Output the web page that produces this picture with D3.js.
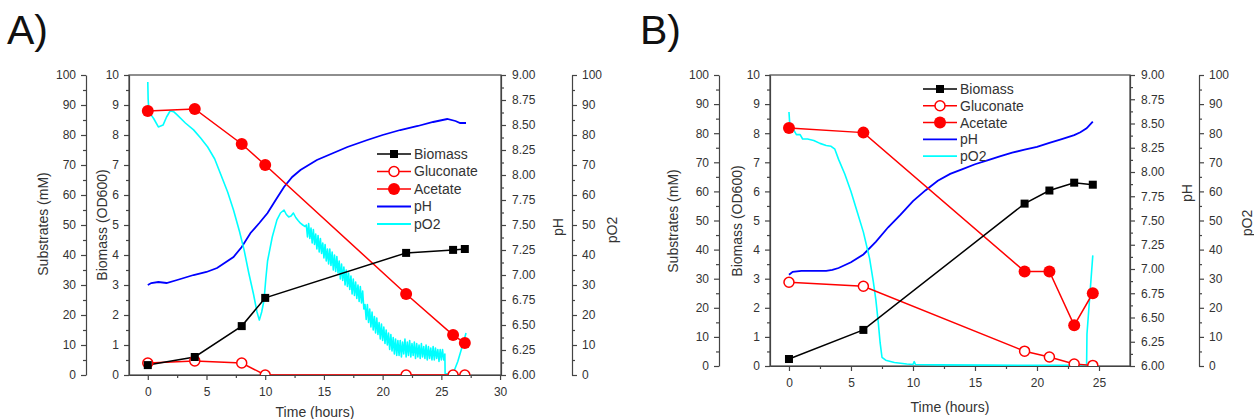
<!DOCTYPE html>
<html lang="en">
<head>
<meta charset="utf-8">
<title>Biomass, substrates, pH and pO2</title>
<script src="https://d3js.org/d3.v7.min.js"></script>
<style>
  body { margin: 0; background: #fff; }
  svg text { font-family: "Liberation Sans", Arial, sans-serif; fill: #333; }
  .axis path, .axis line { stroke: #444; stroke-width: 1.2; }
  .axis text { font-size: 12px; fill: #333; font-family: "Liberation Sans", Arial, sans-serif; }
  .title { font-size: 14px; }
  .legend text { font-size: 14px; }
  .panel-label { font-size: 41px; fill: #111; }
</style>
</head>
<body>
<svg id="chart" width="1254" height="419"></svg>
<script>
"use strict"

// ---- tick labels ----
var subTicks = [0, 10, 20, 30, 40, 50, 60, 70, 80, 90, 100];
var bioTicks = [0, 1, 2, 3, 4, 5, 6, 7, 8, 9, 10];
var pHTicks = [6.00, 6.25, 6.50, 6.75, 7.00, 7.25, 7.50, 7.75, 8.00, 8.25, 8.50, 8.75, 9.00];
var o2Ticks = [0, 10, 20, 30, 40, 50, 60, 70, 80, 90, 100];
var timeTicksA = [0, 5, 10, 15, 20, 25, 30];
var timeTicksB = [0, 5, 10, 15, 20, 25];

var legendNames = ["Biomass", "Gluconate", "Acetate", "pH", "pO2"];

// ---- panel A ----
var sampleTimeA = [0, 4, 8, 10, 22, 26, 27];
var biomassA   = [0.33, 0.6, 1.63, 2.57, 4.07, 4.17, 4.2];
var gluconateA = [4, 4.7, 4, 0, 0, 0, 0];
var acetateA   = [88, 88.7, 77, 70, 27, 13.3, 10.7];

var pHA = [[0,6.9],[0.3,6.92],[0.9,6.93],[1.6,6.92],[2.5,6.95],[3.9,7.0],[5,7.03],[5.9,7.07],
  [7.3,7.18],[8,7.28],[8.75,7.42],[9.5,7.52],[10.2,7.62],[11,7.77],[11.6,7.88],[12.3,7.98],
  [13,8.05],[14.4,8.15],[15.8,8.22],[17,8.28],[18.7,8.35],[20,8.4],[21.5,8.45],[23,8.49],
  [24.3,8.53],[25.5,8.56],[26.2,8.54],[26.6,8.52],[27.1,8.52]];

var pO2A = [[0,97.7],[0.03,92],[0.1,87.7],[0.5,85.5],[0.9,82.7],[1.3,83.3],[1.6,86],[1.9,88],
  [2.2,87.8],[2.5,86.7],[3.2,84],[3.9,81.7],[4.5,79],[5.1,76],[5.7,72],[6.2,67],[6.8,61],
  [7.3,55],[7.8,48],[8.2,41.7],[8.6,34],[9.0,27],[9.3,21],[9.5,18.3],[9.7,21],[9.9,25],
  [10.05,32],[10.2,38],[10.6,46],[11.0,51.7],[11.3,54],[11.6,55],[11.8,53.5],[12.0,52.7],
  [12.2,53],[12.4,54],[12.6,52.5],[12.8,51.5],[13.0,50.6],[13.2,50],[13.4,49.5],
  [13.5,50],[13.6,46],[13.7,50.5],[13.8,45.5],[13.9,49],[14.0,44],[14.1,48.5],[14.2,43.5],
  [14.3,47],[14.4,42],[14.5,46.5],[14.6,41],[14.7,45.5],[14.8,40.5],[14.9,44],[15.0,39],
  [15.1,43.5],[15.2,38],[15.3,42],[15.4,37],[15.5,42],[15.6,36.5],[15.7,41],[15.8,35],
  [15.9,40],[16.0,34.5],[16.1,39.5],[16.2,34],[16.3,38],[16.4,32],[16.5,37],[16.6,31.5],
  [16.7,36],[16.8,30],[16.9,35],[17.0,29.5],[17.1,34],[17.2,28.5],[17.3,33],[17.4,27],
  [17.5,32],[17.6,26.5],[17.7,31],[17.8,25.5],[17.9,30],[18.0,24.5],[18.1,29.5],[18.2,24],
  [18.3,28],[18.4,22],[18.5,23.5],[18.6,18.5],[18.7,23.5],[18.8,17.5],[18.9,22],[19.0,16],
  [19.1,21],[19.2,15],[19.3,19.5],[19.4,14],[19.5,19],[19.6,13.5],[19.7,17.5],[19.8,12],
  [19.9,17],[20.0,11.5],[20.1,16],[20.2,10.5],[20.3,15],[20.4,10],[20.5,14],[20.6,8.5],
  [20.7,13.5],[20.8,8],[20.9,12.5],[21.0,7],[21.1,12],[21.2,6.5],[21.3,11.5],[21.4,6.5],
  [21.5,11.5],[21.6,6],[21.7,11],[21.8,7],[21.9,12],[22.0,6],[22.1,11],[22.2,6.5],
  [22.3,11.5],[22.4,6],[22.5,10.5],[22.6,6.5],[22.7,11],[22.8,5.5],[22.9,10.5],[23.0,6],
  [23.1,10],[23.2,5.5],[23.3,10.5],[23.4,6],[23.5,9.5],[23.6,5.5],[23.7,10],[23.8,5],
  [23.9,9.5],[24.0,5.5],[24.1,9],[24.2,5],[24.3,9.5],[24.4,5],[24.5,9],[24.6,5.5],
  [24.7,8.5],[24.8,4.5],[24.9,8.5],[25.0,5],[25.1,8.5],[25.2,5],[25.3,7],[25.32,0.5],
  [25.8,0.3],[26.1,1.5],[26.4,4.5],[26.7,8.5],[27.0,12.5],[27.1,14]];

// ---- panel B ----
var sampleTimeB = [0, 6, 19, 21, 23, 24.5];
var biomassB   = [0.24, 1.24, 5.58, 6.03, 6.3, 6.23];
var gluconateB = [28.8, 27.4, 5.1, 3.1, 0.7, 0.2];
var acetateB   = [81.8, 80.2, 32.5, 32.5, 14, 25];

var pHB = [[0,6.94],[0.3,6.97],[1,6.98],[2,6.98],[3,6.98],[3.5,6.99],[4,7.01],[5,7.07],
  [6,7.15],[7,7.28],[8,7.43],[9,7.56],[10,7.7],[11,7.81],[12,7.91],[13,7.98],[14,8.03],
  [15,8.08],[16,8.12],[17,8.16],[18,8.2],[19,8.23],[20,8.26],[21,8.3],[22,8.34],[23,8.38],
  [23.5,8.41],[24,8.45],[24.5,8.52]];

var pO2B = [[0,87.3],[0.05,84],[0.15,82],[0.4,81],[0.6,79.5],[0.9,79.5],[1.1,78],[1.5,78],
  [2,77.5],[2.5,76.5],[3,75.8],[3.4,75.5],[3.7,74.5],[4,71],[4.5,66],[5,60],[5.5,53],[6,46],
  [6.5,37],[6.8,29],[7.0,23],[7.2,15],[7.35,8],[7.5,3],[7.8,2],[8.5,1.2],[9.5,0.7],[10.0,0.5],
  [10.1,1.5],[10.2,0.5],[12,0.4],[16,0.3],[20,0.2],[24,0.2],[24.03,11],[24.5,38]];

var svg = d3.select('#chart');

function fmtInt(d) { return d3.format('d')(d); }
function fmtPH(d) { return d3.format('.2f')(d); }

// major ticks with labels + unlabelled minor ticks at half steps
function axisPair(g, axisFn, scale, major, fmt, tx, ty) {
  var step = major[1] - major[0];
  var minor = d3.range(major[0] + step / 2, major[major.length - 1], step);
  g.append('g').attr('class', 'axis').attr('transform', 'translate(' + tx + ',' + ty + ')')
    .call(axisFn(scale).tickValues(minor).tickSize(3).tickSizeOuter(0).tickFormat(''))
    .call(s => s.select('.domain').remove());
  return g.append('g').attr('class', 'axis').attr('transform', 'translate(' + tx + ',' + ty + ')')
    .call(axisFn(scale).tickValues(major).tickSize(5).tickSizeOuter(0).tickPadding(5).tickFormat(fmt));
}

function drawPanel(p) {
  var g = svg.append('g');
  var x = d3.scaleLinear().domain(p.xDomain).range([p.left, p.right]);
  var yBio = d3.scaleLinear().domain([0, 10]).range([p.bottom, p.top]);
  var ySub = d3.scaleLinear().domain([0, 100]).range([p.bottom, p.top]);
  var yPH = d3.scaleLinear().domain([6, 9]).range([p.bottom, p.top]);
  var yO2 = d3.scaleLinear().domain([0, 100]).range([p.bottom, p.top]);

  g.append('text').attr('class', 'panel-label').attr('x', p.labelX).attr('y', 44).text(p.label);

  // axes
  axisPair(g, d3.axisLeft, ySub, subTicks, fmtInt, p.subX, 0);
  axisPair(g, d3.axisLeft, yBio, bioTicks, fmtInt, p.left, 0);
  axisPair(g, d3.axisRight, yPH, pHTicks, fmtPH, p.right, 0).selectAll('text').attr('x', 11);
  axisPair(g, d3.axisRight, yO2, o2Ticks, fmtInt, p.o2X, 0);
  var xa = axisPair(g, d3.axisBottom, x, p.timeTicks, fmtInt, 0, p.bottom);
  xa.selectAll('text').attr('y', 12);

  g.append('rect')
    .attr('x', p.left).attr('y', p.top)
    .attr('width', p.right - p.left).attr('height', p.bottom - p.top)
    .attr('fill', 'none').attr('stroke', '#444').attr('stroke-width', 1.2);

  // axis titles
  function vTitle(txt, cx, cy) {
    g.append('text').attr('class', 'title')
      .attr('transform', 'translate(' + cx + ',' + cy + ') rotate(-90)')
      .attr('text-anchor', 'middle').attr('dy', '0.35em').text(txt);
  }
  vTitle('Substrates (mM)', p.subTitleX, p.subTitleY);
  vTitle('Biomass (OD600)', p.bioTitleX, p.bioTitleY);
  vTitle('pH', p.pHTitleX, p.pHTitleY);
  vTitle('pO2', p.o2TitleX, p.o2TitleY);
  g.append('text').attr('class', 'title')
    .attr('x', (p.left + p.right) / 2).attr('y', p.bottom + p.timeTitleDy)
    .attr('text-anchor', 'middle').text('Time (hours)');

  // data
  var clipId = 'clip' + p.label.charAt(0);
  g.append('clipPath').attr('id', clipId).append('rect')
    .attr('x', p.left).attr('y', p.top)
    .attr('width', p.right - p.left).attr('height', p.bottom - p.top);
  var plot = g.append('g').attr('clip-path', 'url(#' + clipId + ')');

  var line = (ys) => d3.line().x(d => x(d[0])).y(d => ys(d[1]));

  plot.append('path').datum(p.pH).attr('d', line(yPH))
    .attr('fill', 'none').attr('stroke', '#0000ff').attr('stroke-width', 1.8);
  plot.append('path').datum(p.pO2).attr('d', line(yO2))
    .attr('fill', 'none').attr('stroke', '#00ffff').attr('stroke-width', 1.6)
    .attr('stroke-linejoin', 'round');

  var glu = p.times.map((t, i) => [t, p.gluconate[i]]);
  var ace = p.times.map((t, i) => [t, p.acetate[i]]);
  var bio = p.times.map((t, i) => [t, p.biomass[i]]);

  plot.append('path').datum(glu).attr('d', line(ySub))
    .attr('fill', 'none').attr('stroke', '#ff0000').attr('stroke-width', 1.5);
  plot.append('path').datum(ace).attr('d', line(ySub))
    .attr('fill', 'none').attr('stroke', '#ff0000').attr('stroke-width', 1.5);
  plot.append('path').datum(bio).attr('d', line(yBio))
    .attr('fill', 'none').attr('stroke', '#000').attr('stroke-width', 1.5);

  plot.selectAll('.glu').data(glu).enter().append('circle')
    .attr('cx', d => x(d[0])).attr('cy', d => ySub(d[1])).attr('r', 5)
    .attr('fill', '#fff').attr('stroke', '#ff0000').attr('stroke-width', 1.5);
  plot.selectAll('.ace').data(ace).enter().append('circle')
    .attr('cx', d => x(d[0])).attr('cy', d => ySub(d[1])).attr('r', 6)
    .attr('fill', '#ff0000');
  plot.selectAll('.bio').data(bio).enter().append('rect')
    .attr('x', d => x(d[0]) - 4).attr('y', d => yBio(d[1]) - 4)
    .attr('width', 8).attr('height', 8).attr('fill', '#000');

  // legend
  var lg = g.append('g').attr('class', 'legend');
  legendNames.forEach(function (name, i) {
    var ly = p.legendY + i * p.legendStep;
    var col = ['#000', '#ff0000', '#ff0000', '#0000ff', '#00ffff'][i];
    lg.append('line').attr('x1', p.legendX).attr('x2', p.legendX + 34)
      .attr('y1', ly).attr('y2', ly).attr('stroke', col).attr('stroke-width', i < 3 ? 1.5 : 1.8);
    var mx = p.legendX + 17;
    if (i === 0) lg.append('rect').attr('x', mx - 4).attr('y', ly - 4).attr('width', 8).attr('height', 8).attr('fill', '#000');
    if (i === 1) lg.append('circle').attr('cx', mx).attr('cy', ly).attr('r', 5).attr('fill', '#fff').attr('stroke', '#ff0000').attr('stroke-width', 1.5);
    if (i === 2) lg.append('circle').attr('cx', mx).attr('cy', ly).attr('r', 6).attr('fill', '#ff0000');
    lg.append('text').attr('x', p.legendX + 37).attr('y', ly).attr('dy', '0.35em').text(name);
  });
}

drawPanel({
  label: 'A)', labelX: 7,
  left: 129, right: 501, top: 75, bottom: 375, subX: 86, o2X: 572,
  xDomain: [-1.6, 30.08], timeTicks: timeTicksA,
  times: sampleTimeA, biomass: biomassA, gluconate: gluconateA, acetate: acetateA,
  pH: pHA, pO2: pO2A,
  subTitleX: 43, subTitleY: 224, bioTitleX: 102, bioTitleY: 225,
  pHTitleX: 558, pHTitleY: 227, o2TitleX: 612, o2TitleY: 230, timeTitleDy: 42,
  legendX: 377, legendY: 154, legendStep: 17.5
});

drawPanel({
  label: 'B)', labelX: 640,
  left: 770, right: 1130, top: 75, bottom: 366, subX: 719, o2X: 1199,
  xDomain: [-1.53, 27.5], timeTicks: timeTicksB,
  times: sampleTimeB, biomass: biomassB, gluconate: gluconateB, acetate: acetateB,
  pH: pHB, pO2: pO2B,
  subTitleX: 673, subTitleY: 221, bioTitleX: 737, bioTitleY: 221,
  pHTitleX: 1187, pHTitleY: 193, o2TitleX: 1247, o2TitleY: 223, timeTitleDy: 46,
  legendX: 923, legendY: 89, legendStep: 16.8
});
</script>
</body>
</html>
